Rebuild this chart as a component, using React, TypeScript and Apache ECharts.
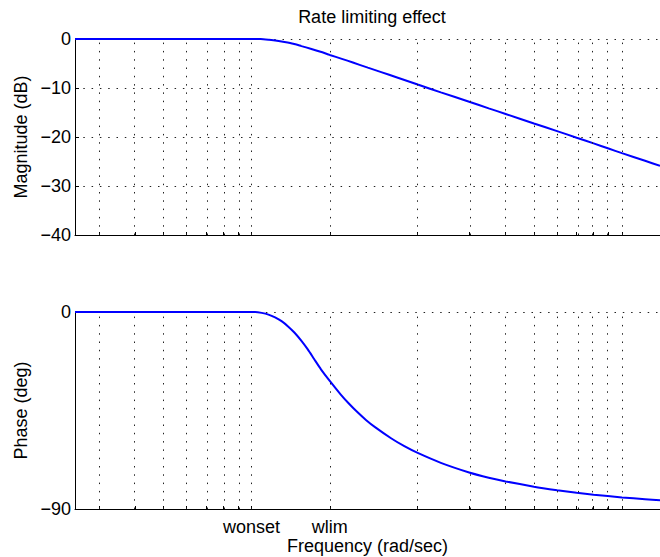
import React, { useEffect, useRef } from 'react';
import * as echarts from 'echarts';

// ---- data (frequency in units of wlim, rad/sec) ----
const WONSET = 0.54;
const WLIM = 1;
const X_MIN = 0.1343;
const X_MAX = 13.5;

const xTickFreqs = [WONSET, WLIM];
const xTickLabels = ['wonset', 'wlim'];

const gridFreqs = [0.162, 0.216, 0.27, 0.324, 0.378, 0.432, 0.486, 0.54, 1, 2, 3, 4, 5, 6, 7, 8, 9, 10];

const magTicks = [0, -10, -20, -30, -40];
const phaseTicks = [0, -90];

const magFreq = [0.1343, 0.3, 0.54, 0.58, 0.62, 0.66, 0.7, 0.75, 0.8, 0.86, 0.93, 1.0, 1.1, 1.2, 1.35, 1.5, 1.7, 2, 2.4, 3, 3.5, 4, 5, 6, 7, 8, 9, 10, 12, 13.5];
const magDb = [0, 0, 0, 0, -0.15, -0.35, -0.62, -0.98, -1.45, -1.98, -2.6, -3.25, -4.05, -4.8, -5.85, -6.75, -7.85, -9.3, -10.9, -12.8, -14.15, -15.3, -17.25, -18.8, -20.15, -21.3, -22.35, -23.3, -24.85, -25.9];

const phaseFreq = [0.1343, 0.3, 0.555, 0.585, 0.617, 0.65, 0.684, 0.72, 0.758, 0.8, 0.841, 0.885, 0.933, 1.0, 1.089, 1.16, 1.24, 1.33, 1.429, 1.626, 1.8, 2, 2.4, 3, 3.5, 4, 5, 6, 7, 8, 10, 12, 13.5];
const phaseDeg = [0, 0, 0, -0.4, -1.2, -2.5, -4.2, -6.6, -9.5, -13.2, -17.1, -21.6, -26.2, -31.5, -37.6, -41.7, -45.6, -49.3, -52.6, -57.8, -61.3, -64.4, -68.9, -73.3, -75.7, -77.4, -79.8, -81.4, -82.6, -83.5, -84.7, -85.5, -86.0];

const lg = (v: number) => Math.log10(v);
const FONT = "'Liberation Sans', Arial, Helvetica, sans-serif";
const FS = 18;
const minus = (v: number) => String(v).replace('-', '\u2212');

const dotted = { color: '#222', width: 1, type: [1.5, 6.8] as any };

function buildOption(): any {
  const gridMarks = {
    silent: true,
    symbol: 'none',
    label: { show: false },
    lineStyle: dotted,
    emphasis: { disabled: true },
    data: gridFreqs.map((f) => ({ xAxis: lg(f) })),
  };
  const xBase = (gridIndex: number, showLabels: boolean) => ({
    type: 'value',
    gridIndex,
    min: lg(X_MIN),
    max: lg(X_MAX),
    axisLine: { show: true, onZero: false, lineStyle: { color: '#000', width: 1 } },
    axisTick: {
      show: true,
      inside: true,
      length: 3,
      customValues: gridFreqs.map(lg),
      lineStyle: { color: '#000' },
    },
    splitLine: { show: false },
    axisLabel: showLabels
      ? {
          show: true,
          customValues: xTickFreqs.map(lg),
          formatter: (v: number) => {
            let best = 0;
            xTickFreqs.forEach((f, i) => {
              if (Math.abs(lg(f) - v) < Math.abs(lg(xTickFreqs[best]) - v)) best = i;
            });
            return xTickLabels[best];
          },
          color: '#000',
          fontFamily: FONT,
          fontSize: FS,
          margin: 9,
        }
      : { show: false },
    name: showLabels ? 'Frequency (rad/sec)' : '',
    nameLocation: 'middle',
    nameGap: 25,
    nameTextStyle: { color: '#000', fontFamily: FONT, fontSize: FS },
  });
  const yBase = (gridIndex: number, ticks: number[], name: string) => ({
    type: 'value',
    gridIndex,
    min: ticks[ticks.length - 1],
    max: ticks[0],
    interval: ticks[0] - ticks[1],
    axisLine: { show: true, onZero: false, lineStyle: { color: '#000', width: 1 } },
    axisTick: { show: true, inside: true, length: 4, lineStyle: { color: '#000' } },
    axisLabel: {
      color: '#000',
      fontFamily: FONT,
      fontSize: FS,
      margin: 4,
      formatter: (v: number) => minus(v),
    },
    splitLine: { show: true, lineStyle: dotted },
    name,
    nameLocation: 'middle',
    nameGap: 43,
    nameTextStyle: { color: '#000', fontFamily: FONT, fontSize: FS },
  });
  return {
    animation: false,
    backgroundColor: '#fff',
    graphic: [
      {
        type: 'text',
        x: 372,
        y: 8,
        style: {
          text: 'Rate limiting effect',
          textAlign: 'center',
          fill: '#000',
          font: `${FS}px ${FONT}`,
        },
      },
    ],
    grid: [
      { left: 75, top: 39, width: 595, height: 196 },
      { left: 75, top: 312, width: 595, height: 197 },
    ],
    xAxis: [xBase(0, false), xBase(1, true)],
    yAxis: [yBase(0, magTicks, 'Magnitude (dB)'), yBase(1, phaseTicks, 'Phase (deg)')],
    series: [
      {
        type: 'line',
        xAxisIndex: 0,
        yAxisIndex: 0,
        data: magFreq.map((f, i) => [lg(f), magDb[i]]),
        showSymbol: false,
        smooth: 0.2,
        lineStyle: { color: '#0000ff', width: 2 },
        itemStyle: { color: '#0000ff' },
        markLine: gridMarks,
        z: 3,
      },
      {
        type: 'line',
        xAxisIndex: 1,
        yAxisIndex: 1,
        data: phaseFreq.map((f, i) => [lg(f), phaseDeg[i]]),
        showSymbol: false,
        smooth: 0.2,
        lineStyle: { color: '#0000ff', width: 2 },
        itemStyle: { color: '#0000ff' },
        markLine: gridMarks,
        z: 3,
      },
    ],
  };
}

export default function App() {
  const ref = useRef<HTMLDivElement>(null);
  useEffect(() => {
    if (!ref.current) return;
    const chart = echarts.init(ref.current, null, { renderer: 'svg' });
    chart.setOption(buildOption());
    return () => chart.dispose();
  }, []);
  return (
    <div
      ref={ref}
      style={{ position: 'absolute', left: 0, top: 0, width: 660, height: 557, background: '#fff' }}
    />
  );
}
